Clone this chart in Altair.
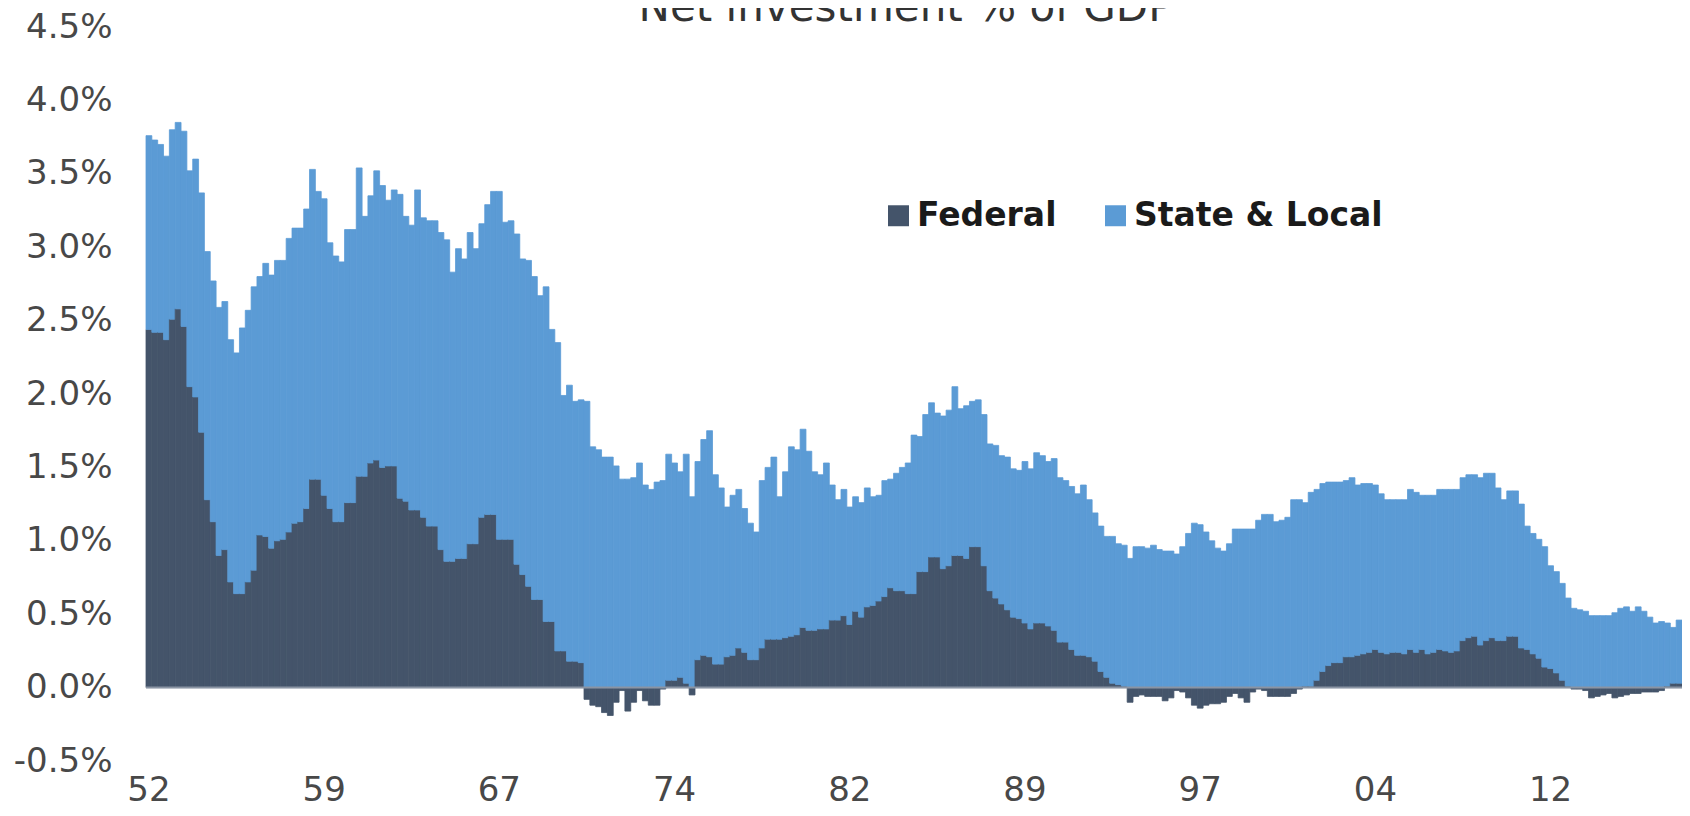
import altair as alt
import pandas as pd

title_text = "Net investment % of GDP"
series_names = ["Federal", "State & Local"]
series_colors = ["#44546a", "#5b9bd5"]

# quarterly, 1952Q1 .. 2017Q3 (percent of GDP)
federal = [
    2.44, 2.42, 2.42, 2.37,  2.51, 2.58, 2.46, 2.05,  1.98, 1.74, 1.28, 1.13,  0.90, 0.94, 0.72, 0.64,
    0.64, 0.72, 0.80, 1.04,  1.03, 0.95, 1.00, 1.01,  1.06, 1.12, 1.13, 1.22,  1.42, 1.42, 1.31, 1.22,
    1.13, 1.13, 1.26, 1.26,  1.44, 1.44, 1.53, 1.55,  1.50, 1.51, 1.51, 1.29,  1.27, 1.21, 1.21, 1.16,
    1.10, 1.10, 0.94, 0.86,  0.86, 0.88, 0.88, 0.98,  0.98, 1.16, 1.18, 1.18,  1.01, 1.01, 1.01, 0.84,
    0.77, 0.69, 0.60, 0.60,  0.45, 0.45, 0.25, 0.25,  0.18, 0.18, 0.17, -0.08, -0.12, -0.13, -0.17, -0.19,
    -0.10, -0.02, -0.16, -0.10, -0.02, -0.09, -0.12, -0.12, -0.01, 0.05, 0.05, 0.07,  0.03, -0.05, 0.19, 0.22,
    0.21, 0.16, 0.16, 0.21,  0.22, 0.27, 0.24, 0.19,  0.19, 0.27, 0.33, 0.33,  0.33, 0.34, 0.35, 0.36,
    0.41, 0.39, 0.39, 0.40,  0.40, 0.46, 0.46, 0.49,  0.43, 0.52, 0.48, 0.55,  0.56, 0.59, 0.62, 0.68,
    0.66, 0.66, 0.64, 0.64,  0.79, 0.79, 0.89, 0.89,  0.81, 0.83, 0.90, 0.90,  0.88, 0.96, 0.96, 0.83,
    0.66, 0.61, 0.57, 0.53,  0.48, 0.47, 0.44, 0.40,  0.44, 0.44, 0.42, 0.39,  0.31, 0.31, 0.26, 0.22,
    0.22, 0.21, 0.18, 0.11,  0.07, 0.03, 0.02, 0.01,  -0.10, -0.06, -0.05, -0.06, -0.06, -0.06, -0.09, -0.07,
    -0.02, -0.03, -0.07, -0.12, -0.14, -0.12, -0.11, -0.11, -0.10, -0.06, -0.04, -0.07, -0.10, -0.03, -0.01, -0.02,
    -0.06, -0.06, -0.06, -0.06, -0.04, -0.01, 0.01, 0.01,  0.05, 0.11, 0.15, 0.17,  0.17, 0.21, 0.21, 0.22,
    0.23, 0.24, 0.26, 0.24,  0.23, 0.24, 0.24, 0.23,  0.26, 0.24, 0.26, 0.23,  0.24, 0.26, 0.25, 0.24,
    0.25, 0.32, 0.34, 0.35,  0.29, 0.32, 0.34, 0.32,  0.32, 0.35, 0.35, 0.27,  0.26, 0.23, 0.20, 0.14,
    0.13, 0.10, 0.05, 0.01,  -0.01, -0.01, -0.02, -0.07, -0.06, -0.05, -0.04, -0.07, -0.06, -0.05, -0.04, -0.04,
    -0.03, -0.03, -0.03, -0.02, 0.01, 0.03, 0.03,
]

state_local = [
    1.32, 1.31, 1.28, 1.25,  1.29, 1.27, 1.33, 1.47,  1.62, 1.63, 1.69, 1.64,  1.69, 1.69, 1.65, 1.64,
    1.81, 1.85, 1.93, 1.76,  1.86, 1.86, 1.91, 1.90,  2.00, 2.01, 2.00, 2.04,  2.11, 1.96, 2.02, 1.81,
    1.81, 1.77, 1.86, 1.86,  2.10, 1.77, 1.82, 1.97,  1.92, 1.81, 1.88, 2.07,  1.94, 1.94, 2.18, 2.04,
    2.08, 2.08, 2.16, 2.19,  1.97, 2.11, 2.04, 2.12,  2.01, 2.00, 2.11, 2.20,  2.37, 2.16, 2.17, 2.25,
    2.15, 2.22, 2.20, 2.07,  2.28, 1.99, 2.10, 1.74,  1.88, 1.77, 1.79, 1.95,  1.64, 1.62, 1.57, 1.57,
    1.51, 1.42, 1.42, 1.43,  1.53, 1.38, 1.35, 1.40,  1.41, 1.54, 1.48, 1.40,  1.56, 1.30, 1.35, 1.47,
    1.54, 1.29, 1.20, 1.02,  1.09, 1.08, 0.98, 0.93,  0.87, 1.14, 1.17, 1.24,  0.97, 1.13, 1.29, 1.26,
    1.35, 1.22, 1.08, 1.05,  1.13, 0.92, 0.82, 0.86,  0.80, 0.78, 0.78, 0.81,  0.74, 0.72, 0.79, 0.74,
    0.80, 0.84, 0.89, 1.08,  0.92, 1.07, 1.05, 0.98,  1.04, 1.06, 1.15, 1.00,  1.04, 0.99, 1.00, 1.03,
    1.00, 1.04, 1.01, 1.04,  1.01, 1.01, 1.10, 1.09,  1.16, 1.14, 1.12, 1.17,  1.12, 1.10, 1.11, 1.10,
    1.16, 1.07, 1.01, 0.99,  0.96, 1.00, 0.96, 0.96,  0.88, 0.96, 0.96, 0.95,  0.97, 0.94, 0.93, 0.93,
    0.91, 0.96, 1.05, 1.12,  1.11, 1.06, 1.00, 0.95,  0.93, 0.98, 1.08, 1.08,  1.08, 1.08, 1.14, 1.18,
    1.18, 1.13, 1.14, 1.16,  1.28, 1.28, 1.25, 1.32,  1.30, 1.28, 1.25, 1.23,  1.23, 1.20, 1.22, 1.16,
    1.16, 1.15, 1.12, 1.08,  1.05, 1.04, 1.04, 1.05,  1.09, 1.09, 1.05, 1.08,  1.07, 1.09, 1.10, 1.11,
    1.10, 1.11, 1.11, 1.10,  1.14, 1.14, 1.12, 1.04,  0.96, 0.99, 0.99, 0.98,  0.84, 0.82, 0.81, 0.82,
    0.70, 0.69, 0.66, 0.60,  0.54, 0.53, 0.52, 0.49,  0.49, 0.49, 0.49, 0.51,  0.54, 0.55, 0.52, 0.55,
    0.52, 0.48, 0.44, 0.45,  0.43, 0.38, 0.43,
]

first_year = 1952
quarters = [f"{first_year + i // 4}Q{i % 4 + 1}" for i in range(len(federal))]

x_tick_quarters = ["1952Q1", "1959Q3", "1967Q1", "1974Q3", "1982Q1",
                   "1989Q3", "1997Q1", "2004Q3", "2012Q1"]
y_tick_values = [-0.5, 0.0, 0.5, 1.0, 1.5, 2.0, 2.5, 3.0, 3.5, 4.0, 4.5]

rows = []
for q, f, s in zip(quarters, federal, state_local):
    rows.append({"quarter": q, "series": series_names[0], "value": f, "ord": 0})
    rows.append({"quarter": q, "series": series_names[1], "value": s, "ord": 1})
df = pd.DataFrame(rows)

color_scale = alt.Scale(domain=series_names, range=series_colors)
y_scale = alt.Scale(domain=[-0.5, 4.5], nice=False, zero=False)

y_axis = alt.Axis(
    values=y_tick_values,
    labelExpr="(datum.value < 0 ? '-' : '') + format(abs(datum.value), '.1f') + '%'",
    grid=False,
    domain=False,
    ticks=False,
    tickSize=0,
    labelPadding=34,
    labelFont="DejaVu Sans",
    labelFontSize=34,
    labelColor="#484848",
    title=None,
)

bars = alt.Chart(df).mark_bar(strokeWidth=0.8).encode(
    x=alt.X(
        "quarter:O",
        sort=None,
        scale=alt.Scale(paddingInner=0, paddingOuter=0),
        axis=alt.Axis(
            values=x_tick_quarters,
            labelExpr="substring(datum.value, 2, 4)",
            labelAngle=0,
            domain=False,
            ticks=False,
            tickSize=0,
            labelPadding=12,
            labelFont="DejaVu Sans",
            labelFontSize=34,
            labelColor="#484848",
            title=None,
        ),
    ),
    y=alt.Y("value:Q", stack="zero", scale=y_scale, axis=y_axis),
    color=alt.Color(
        "series:N",
        scale=color_scale,
        sort=series_names,
        legend=alt.Legend(
            orient="none",
            legendX=736,
            legendY=172,
            direction="horizontal",
            title=None,
            symbolType="square",
            symbolSize=440,
            symbolStrokeWidth=0,
            symbolOpacity=1,
            labelFont="DejaVu Sans",
            labelFontSize=33,
            labelFontWeight="bold",
            labelColor="#1a1a1a",
            labelOffset=2,
            labelLimit=400,
            columnPadding=42,
            padding=0,
        ),
    ),
    stroke=alt.Stroke("series:N", scale=color_scale, legend=None),
    order=alt.Order("ord:Q"),
)

zero_line = alt.Chart(pd.DataFrame({"value": [0.0]})).mark_rule(
    color="#8a94a3", strokeWidth=2
).encode(y=alt.Y("value:Q", scale=y_scale, axis=y_axis))

title = alt.Chart(pd.DataFrame({"t": [title_text]})).mark_text(
    font="DejaVu Sans", fontSize=42, color="#333333", align="center", baseline="alphabetic"
).encode(text="t:N", x=alt.value(760), y=alt.value(-6))

chart = alt.layer(bars, zero_line, title).properties(
    width=1536,
    height=734,
    autosize=alt.AutoSizeParams(type="none"),
    padding={"left": 138, "top": 19, "right": 0, "bottom": 47},
    background="white",
).configure_view(stroke=None)

chart.save("out.html", embed_options={"renderer": "svg", "actions": False})
